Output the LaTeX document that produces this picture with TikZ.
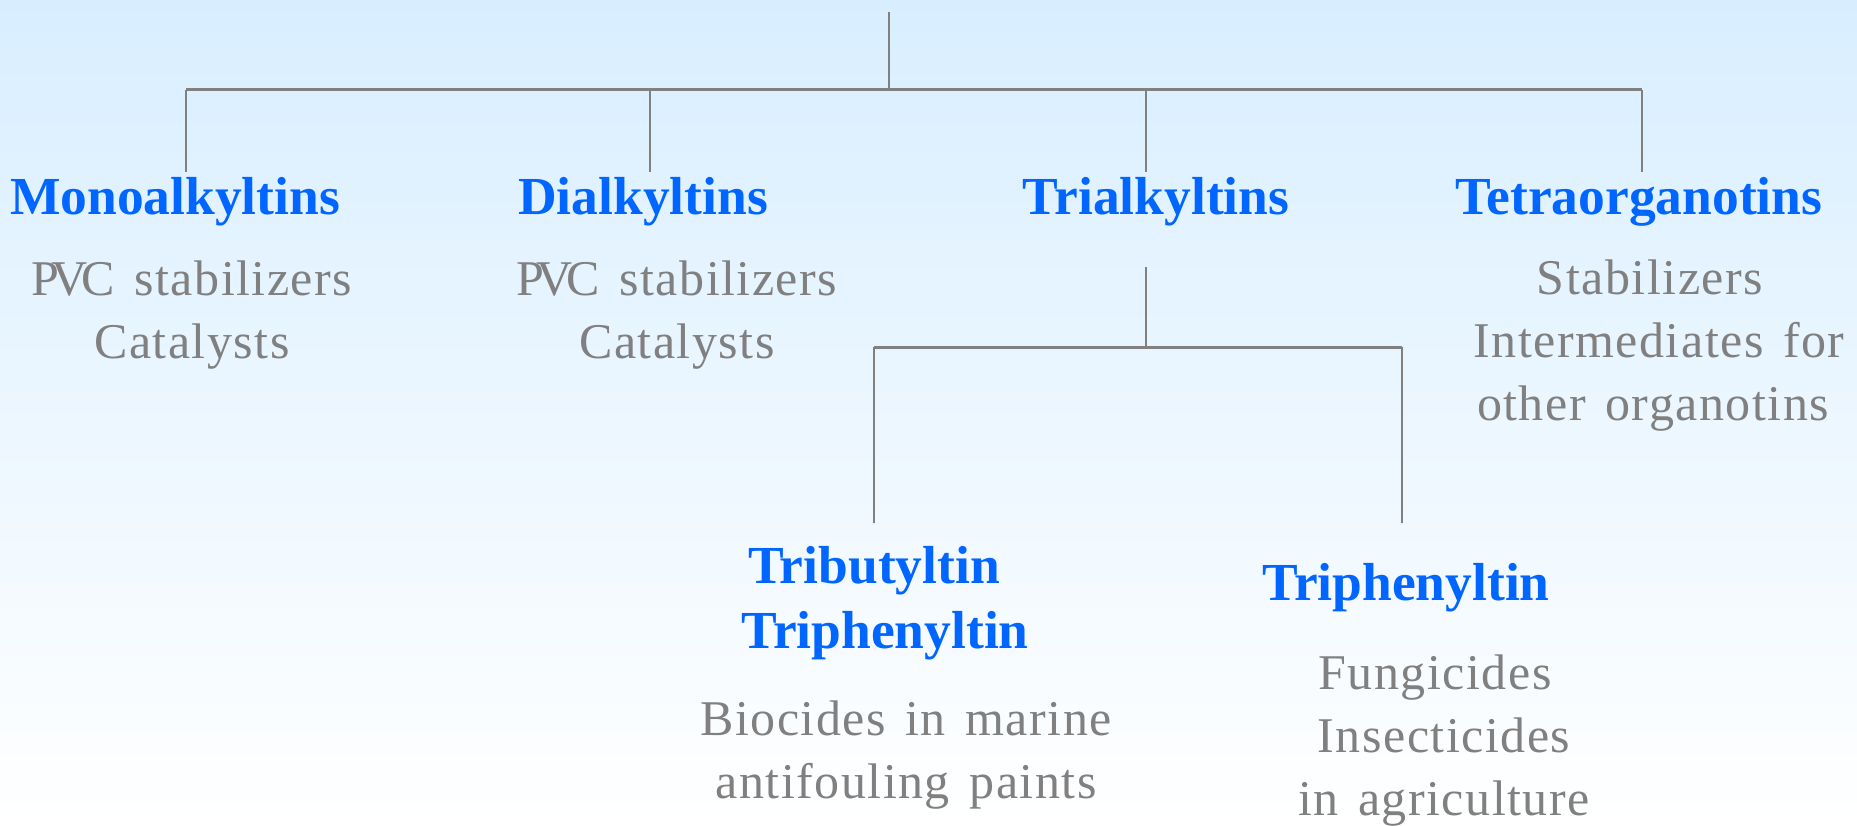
\documentclass[tikz,border=0pt]{standalone}
\usepackage{fontspec}
\setmainfont{Liberation Serif}
\newfontfamily\grayfont[LetterSpace=3,WordSpace=1.4]{Liberation Serif}
\definecolor{titleblue}{HTML}{0066FF}
\definecolor{txtgray}{HTML}{808080}
\definecolor{bgtop}{HTML}{D8EEFF}
\newcommand{\pvc}{P\kern-8pt V\kern-6pt C}
\tikzset{
  title/.style={anchor=base, inner sep=0pt, text=titleblue, font=\fontsize{53.5}{65}\selectfont\bfseries, align=center},
  desc/.style={anchor=base, inner sep=0pt, text=txtgray, font=\grayfont\fontsize{50}{63}\selectfont, align=center},
  conn/.style={draw=txtgray, line width=2pt},
  bus/.style={draw=txtgray, line width=3pt},
}
\begin{document}
\begin{tikzpicture}[x=1pt,y=-1pt]
\shade[top color=bgtop, bottom color=white] (0,0) rectangle (1857,826);
\useasboundingbox (0,0) rectangle (1857,826);
% connector coordinates
\coordinate (root) at (889,12);
\coordinate (rootbus) at (889,90);
\coordinate (busL) at (186,90);
\coordinate (busR) at (1642,90);
\coordinate (mEnd) at (186,172);
\coordinate (dTop) at (650,90);   \coordinate (dEnd) at (650,172);
\coordinate (tTop) at (1146,90);  \coordinate (tEnd) at (1146,172);
\coordinate (oEnd) at (1642,172);
\coordinate (tsub) at (1146,267);
\coordinate (tsubbus) at (1146,347);
\coordinate (sbusL) at (874,347);
\coordinate (sbusR) at (1402,347);
\coordinate (aEnd) at (874,523);
\coordinate (bEnd) at (1402,523);
% titles
\node[title] (mono) at (175,215) {Monoalkyltins};
\node[title] (di) at (643,215) {Dialkyltins};
\node[title] (tri) at (1156,215) {Trialkyltins};
\node[title] (tetra) at (1639,215) {Tetraorganotins};
\node[title] (tbt) at (885,648) {Tributyltin\hspace*{22pt}\\Triphenyltin};
\node[title] (tph) at (1406,600) {Triphenyltin};
% descriptions
\node[desc] (monod) at (192,358) {\pvc{} stabilizers\\Catalysts};
\node[desc] (did) at (677,358) {\pvc{} stabilizers\\Catalysts};
\node[desc] (tetrad) at (1659,420) {Stabilizers\hspace*{18pt}\\Intermediates for\\other organotins\hspace*{12pt}};
\node[desc] (tbtd) at (906,798) {Biocides in marine\\antifouling paints};
\node[desc] (tphd) at (1444,815) {Fungicides\hspace*{18pt}\\Insecticides\\in agriculture};
% connectors
\draw[conn] (root) -- (rootbus);
\draw[bus] (busL) -- (busR);
\draw[conn] (busL) -- (mEnd);
\draw[conn] (dTop) -- (dEnd);
\draw[conn] (tTop) -- (tEnd);
\draw[conn] (busR) -- (oEnd);
\draw[conn] (tsub) -- (tsubbus);
\draw[bus] (sbusL) -- (sbusR);
\draw[conn] (sbusL) -- (aEnd);
\draw[conn] (sbusR) -- (bEnd);
\end{tikzpicture}
\end{document}
